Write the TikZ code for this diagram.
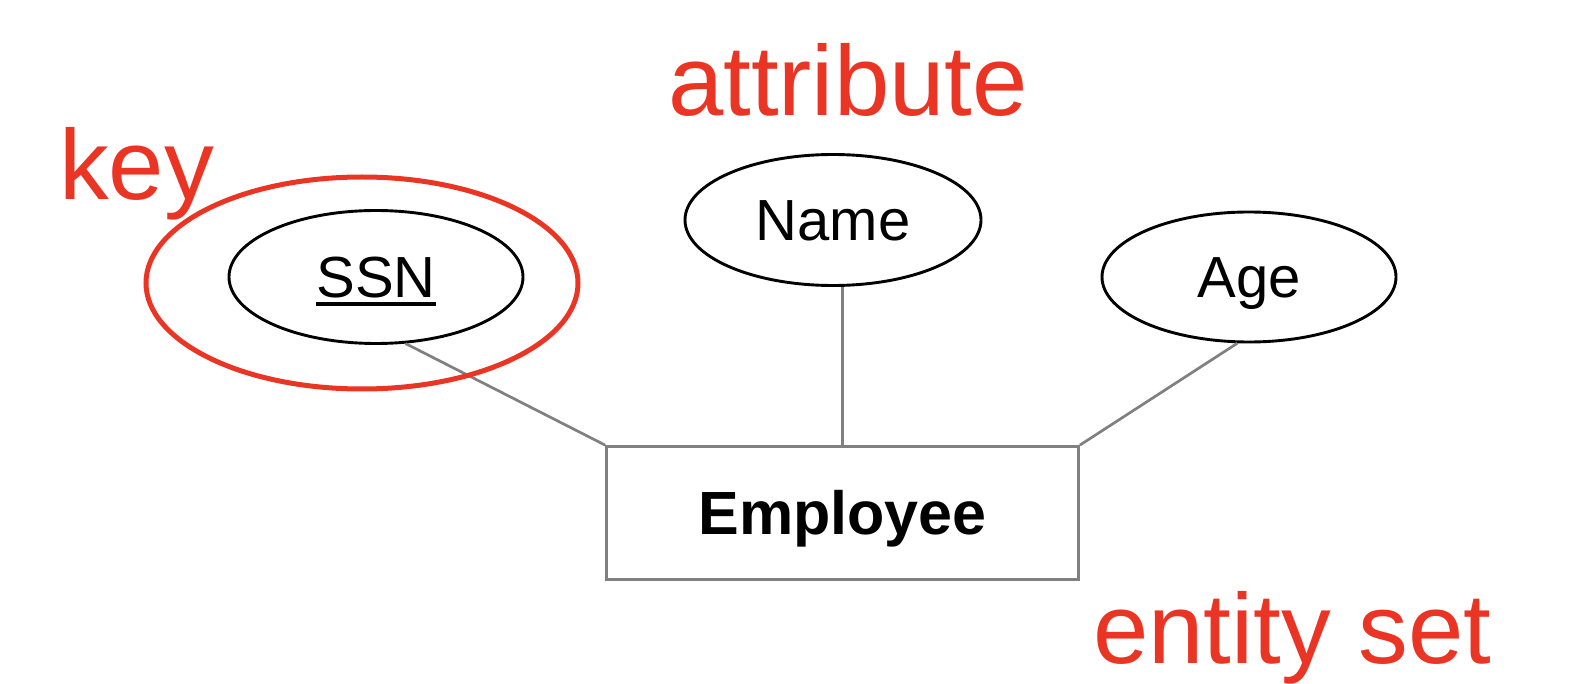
\documentclass[tikz,border=0pt]{standalone}
\usepackage{fontspec}
\setmainfont{Liberation Sans}
\usetikzlibrary{shapes.geometric}
\definecolor{keyred}{RGB}{234,52,36}
\definecolor{linegray}{RGB}{128,128,128}
\newcommand\myul[1]{\leavevmode\setbox0\hbox{#1}\rlap{\raisebox{-7.7pt}{\rule{\wd0}{4pt}}}\box0}
\begin{document}
\begin{tikzpicture}[x=1pt,y=-1pt,
  attr/.style={ellipse,draw=black,line width=2.9pt,inner sep=0pt,
    font=\fontsize{58}{60}\selectfont,text height=42pt,text depth=0pt},
  entitybox/.style={rectangle,draw=linegray,line width=2.8pt,inner sep=0pt,
    minimum width=472pt,minimum height=133pt,
    font=\fontsize{61}{63}\selectfont\bfseries,text height=43pt,text depth=0pt},
  conn/.style={draw=linegray,line width=2.7pt},
  redlabel/.style={text=keyred,inner sep=0pt,anchor=base west,font=\fontsize{99.5}{102}\selectfont},
  keyring/.style={ellipse,draw=keyred,line width=5pt,inner sep=0pt,
    minimum width=432pt,minimum height=212pt}]
\useasboundingbox (0,0) rectangle (1582,684);
\node[attr,minimum width=294pt,minimum height=133pt] (ssn) at (376,277) {\myul{SSN}};
\node[attr,minimum width=296pt,minimum height=131pt] (name) at (833,220) {Name};
\node[attr,minimum width=294pt,minimum height=130pt] (age) at (1249,277) {Age};
\node[entitybox] (emp) at (842.5,513) {Employee};
\draw[conn] (ssn.-66) -- (emp.north west);
\draw[conn] (name.-82) -- (name.-82 |- emp.north);
\draw[conn] (age.-100) -- (emp.north east);
\node[keyring] (keyset) at (362,283) {};
\node[redlabel] (keylbl) at (59,200) {key};
\node[redlabel] (attrlbl) at (668,116) {attribute};
\node[redlabel] (entlbl) at (1093,663) {entity set};
\end{tikzpicture}
\end{document}
